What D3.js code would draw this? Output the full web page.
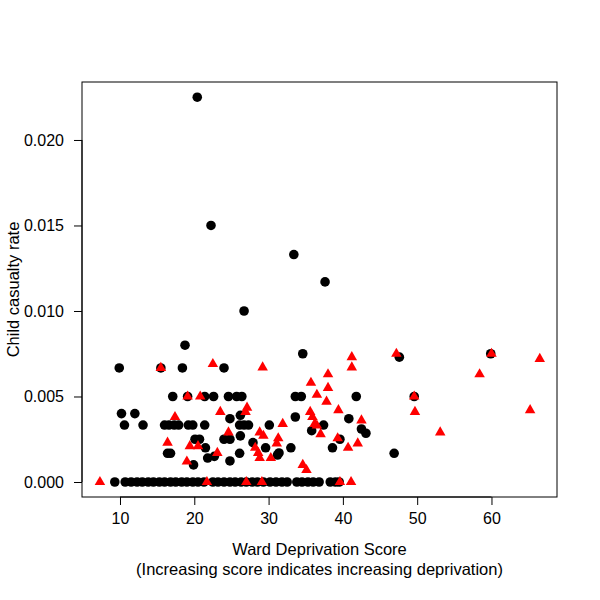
<!DOCTYPE html>
<html lang="en-US">
<head>
<meta charset="UTF-8">
<title>Child casualty rate vs deprivation</title>
<script src="https://d3js.org/d3.v7.min.js"></script>
<style>
  body { margin: 0; background: #fff; }
  text { font-family: "Liberation Sans", Arial, sans-serif; fill: #000; }
</style>
</head>
<body>
<script>

// black circles: [score, rate]
var blackPts = [
  [20.4,0.0225],[22.25,0.0150],[33.4,0.0133],[37.6,0.0117],[26.7,0.0100],[18.75,0.0080],
  [34.6,0.0075],[47.6,0.0073],[59.9,0.0075],
  [9.9,0.00667],[15.5,0.00667],[18.4,0.00667],[24.0,0.00667],
  [17.1,0.005],[19.1,0.005],[21.4,0.005],[22.6,0.005],[24.6,0.005],[25.7,0.005],[26.4,0.005],
  [33.6,0.005],[34.4,0.005],[41.8,0.005],[49.6,0.005],
  [10.2,0.0040],[12.0,0.0040],[24.8,0.0037],[26.2,0.0039],[33.6,0.0038],[40.8,0.0037],
  [10.6,0.00333],[13.1,0.00333],[16.0,0.00333],[16.6,0.00333],[17.3,0.00333],[17.9,0.00333],
  [19.2,0.00333],[19.8,0.00333],[21.4,0.00333],[26.1,0.00333],[26.7,0.00333],[27.3,0.00333],
  [30.1,0.00333],[37.4,0.00333],
  [35.8,0.0030],[42.5,0.0031],[43.1,0.00285],
  [20.1,0.0025],[20.7,0.0025],[24.0,0.0025],[24.8,0.0025],[26.2,0.0027],[27.9,0.0023],[39.6,0.0025],
  [21.5,0.0020],[29.6,0.0020],[33.0,0.0020],[38.6,0.0020],
  [16.4,0.00168],[16.8,0.00168],[26.1,0.00168],[31.4,0.0017],[31.2,0.00158],[46.9,0.00168],
  [21.8,0.0014],[22.7,0.0015],[24.8,0.00123],[19.9,0.0010],
  [9.3,0],[10.7,0],[11.5,0],[12.3,0],[13.0,0],[13.8,0],[14.5,0],[15.3,0],[16.0,0],[16.8,0],
  [17.5,0],[18.3,0],[19.0,0],[19.8,0],[20.5,0],[21.3,0],[22.5,0],[23.2,0],[24.0,0],[24.8,0],
  [25.5,0],[26.3,0],[27.0,0],[27.8,0],[28.5,0],[29.3,0],[30.2,0],[31.0,0],[31.8,0],[32.5,0],
  [33.8,0],[34.5,0],[35.3,0],[36.0,0],[36.8,0],[38.3,0],[39.0,0],[39.5,0]
];

// red triangles: [score, rate]
var redPts = [
  [7.3,0],[21.7,0],[27.0,0],[29.1,0],[39.6,0],[41.1,0],
  [15.5,0.00667],[22.5,0.0069],[29.2,0.0067],[19.1,0.005],[20.8,0.005],
  [17.4,0.0038],[23.5,0.0041],[27.1,0.00435],[26.9,0.0041],[16.4,0.0023],
  [24.6,0.0029],[28.8,0.0029],[29.3,0.0027],[19.4,0.0021],[20.5,0.0021],[23.1,0.0017],
  [28.6,0.0017],[28.8,0.0014],[19.0,0.0012],[28.2,0.0020],[30.3,0.0014],
  [31.9,0.0034],[31.3,0.00256],[31.1,0.00226],
  [47.2,0.0075],[60.0,0.0075],[66.5,0.0072],[41.2,0.0073],[41.2,0.0067],[38.0,0.0063],
  [35.7,0.0058],[38.0,0.0055],[36.5,0.0051],[37.8,0.0047],[49.6,0.0050],[49.7,0.0041],
  [58.4,0.0063],[65.2,0.0042],[53.1,0.0029],[39.4,0.0042],[35.6,0.0041],[35.9,0.0038],
  [42.5,0.0036],[36.2,0.0034],[36.5,0.0033],[37.0,0.0028],[39.3,0.00256],[42.0,0.00226],
  [40.7,0.0020],[34.6,0.0010],[35.1,0.0007]
];

var xTicks = [10, 20, 30, 40, 50, 60];
var yTicks = [0, 0.005, 0.010, 0.015, 0.020];

var box = {left: 82, right: 557, top: 82, bottom: 497};

var x = d3.scaleLinear()
    .domain([4.886, 68.82])
    .range([box.left, box.right]);

var y = d3.scaleLinear()
    .domain([-0.000877, 0.02339])
    .range([box.bottom, box.top]);

var svg = d3.select("body").append("svg")
    .attr("width", 600)
    .attr("height", 600);

// points
svg.selectAll(".dot")
    .data(blackPts)
  .enter().append("circle")
    .attr("class", "dot")
    .attr("cx", function(d) { return x(d[0]); })
    .attr("cy", function(d) { return y(d[1]); })
    .attr("r", 4.8)
    .attr("fill", "#000");

var tri = d3.symbol().type(d3.symbolTriangle).size(48);
svg.selectAll(".tri")
    .data(redPts)
  .enter().append("path")
    .attr("class", "tri")
    .attr("d", tri)
    .attr("transform", function(d) { return "translate(" + x(d[0]) + "," + y(d[1]) + ")"; })
    .attr("fill", "#ff0000");

// box
svg.append("rect")
    .attr("x", box.left)
    .attr("y", box.top)
    .attr("width", box.right - box.left)
    .attr("height", box.bottom - box.top)
    .attr("fill", "none")
    .attr("stroke", "#000")
    .attr("stroke-width", 1);

// x axis (R style: line spans the ticks only)
var xAxis = svg.append("g")
    .attr("transform", "translate(0," + box.bottom + ")")
    .call(d3.axisBottom(x).tickValues(xTicks).tickSize(8).tickPadding(8).tickFormat(d3.format("d")));
xAxis.select(".domain")
    .attr("d", "M" + x(10) + ",0H" + x(60));

var yAxis = svg.append("g")
    .attr("transform", "translate(" + box.left + ",0)")
    .call(d3.axisLeft(y).tickValues(yTicks).tickSize(8).tickPadding(10).tickFormat(d3.format(".3f")));
yAxis.select(".domain")
    .attr("d", "M0," + y(0) + "V" + y(0.020));

svg.selectAll(".tick text")
    .style("font-family", "'Liberation Sans', Arial, sans-serif")
    .style("font-size", "16px");
svg.selectAll(".domain, .tick line").attr("stroke", "#000");

// titles
svg.append("text")
    .attr("x", (box.left + box.right) / 2)
    .attr("y", 555)
    .style("text-anchor", "middle")
    .style("font-size", "16.5px")
    .text("Ward Deprivation Score");

svg.append("text")
    .attr("x", (box.left + box.right) / 2)
    .attr("y", 575)
    .style("text-anchor", "middle")
    .style("font-size", "16.5px")
    .text("(Increasing score indicates increasing deprivation)");

svg.append("text")
    .attr("transform", "rotate(-90)")
    .attr("x", -(box.top + box.bottom) / 2)
    .attr("y", 19)
    .style("text-anchor", "middle")
    .style("font-size", "16.5px")
    .text("Child casualty rate");

</script>
</body>
</html>
